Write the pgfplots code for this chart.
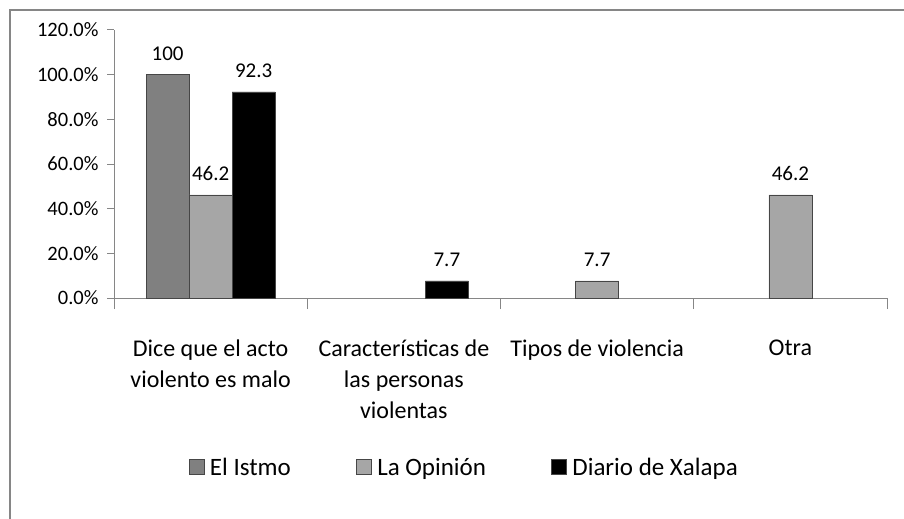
\documentclass[border=0pt]{standalone}
\usepackage{fontspec}
\setmainfont{Carlito}
\usepackage{pgfplots}
\pgfplotsset{compat=1.18}
\definecolor{istmo}{RGB}{128,128,128}
\definecolor{opinion}{RGB}{166,166,166}
\definecolor{xalapa}{RGB}{0,0,0}
\definecolor{axisgray}{RGB}{134,134,134}
\definecolor{edge}{RGB}{70,70,70}

\begin{document}
\begin{tikzpicture}[x=1bp,y=1bp]
% outer chart frame (only left and top edges visible)
\draw[axisgray, line width=1.5bp] (10,-530) -- (10,-10) -- (910,-10);
\begin{axis}[
  at={(114bp,-298bp)}, anchor=south west,
  scale only axis, width=773bp, height=268bp,
  xmin=-0.5, xmax=3.5, ymin=0, ymax=120,
  ybar=0pt, bar width=43bp,
  axis lines=left,
  axis line style={-, draw=axisgray, line width=1bp},
  tick align=outside,
  major tick length=7bp, minor tick length=11bp,
  tick style={draw=axisgray, line width=1bp},
  xtick={0,1,2,3},
  major x tick style={draw=none},
  minor xtick={-0.5,0.5,1.5,2.5,3.5},
  xticklabels={Dice que el acto\\violento es malo,
               Características de\\las personas\\violentas,
               Tipos de violencia, Otra},
  xticklabel style={font=\fontsize{24bp}{31bp}\selectfont, align=center,
                    anchor=north, yshift=-31bp},
  ytick={0,20,...,120},
  yticklabel={\pgfmathprintnumber[fixed,fixed zerofill,precision=1]{\tick}\%},
  /pgf/number format/assume math mode=true,
  yticklabel style={font=\fontsize{20.5bp}{23bp}\selectfont, xshift=-5bp},
  nodes near coords,
  every node near coord/.append style={font=\fontsize{21bp}{24bp}\selectfont,
                                       text=black, yshift=11bp},
  legend columns=3,
  legend style={at={(0.453,-0.631)}, anchor=center, draw=none, fill=none,
                font=\fontsize{25bp}{28bp}\selectfont,
                /tikz/every even column/.append style={column sep=63bp,
                  text height=18bp, text depth=6bp}},
  legend image code/.code={\draw[#1] (0bp,-7.5bp) rectangle (15bp,7.5bp);
                           \path (19bp,0bp);},
]
\addplot[fill=istmo, draw=edge] coordinates {(0,100)};
\addlegendentry{El Istmo}
\addplot[fill=opinion, draw=edge] coordinates {(0,46.2) (2,7.7) (3,46.2)};
\addlegendentry{La Opinión}
\addplot[fill=xalapa, draw=edge] coordinates {(0,92.3) (1,7.7)};
\addlegendentry{Diario de Xalapa}
\end{axis}
\pgfresetboundingbox
\path[use as bounding box] (0,0) rectangle (904,-519);
\end{tikzpicture}
\end{document}
